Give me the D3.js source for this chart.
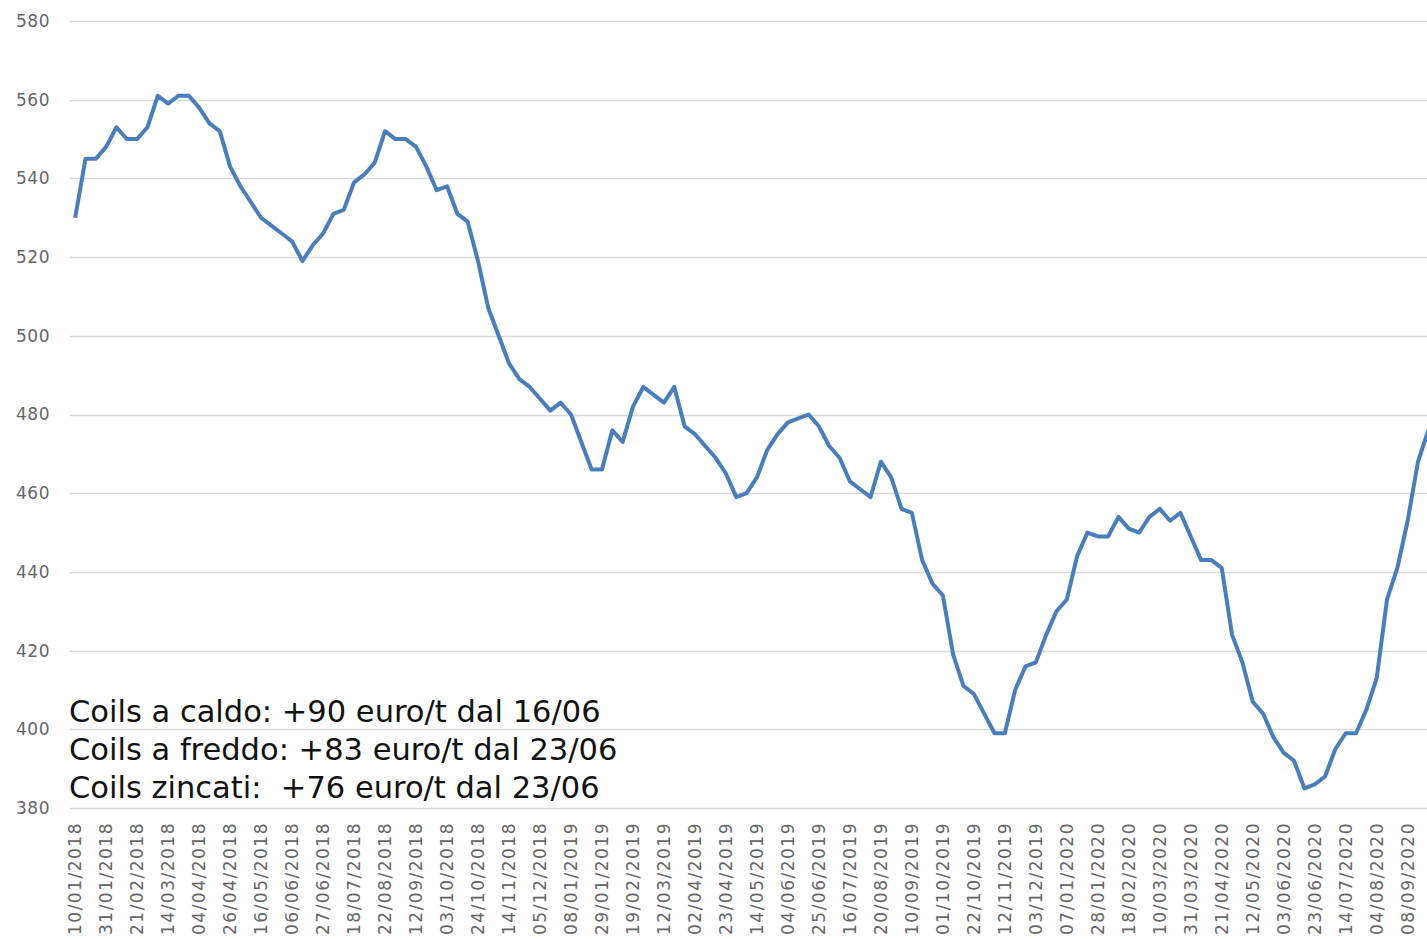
<!DOCTYPE html>
<html>
<head>
<meta charset="utf-8">
<script src="https://cdn.jsdelivr.net/npm/d3@7"></script>
<style>
  html, body { margin: 0; padding: 0; background: #fff; }
  svg { display: block; }
</style>
</head>
<body>
<div id="vis-container"></div>
<script>
// tick labels, one every 3 weekly categories
var tickLabels = [
  '10/01/2018','31/01/2018','21/02/2018','14/03/2018','04/04/2018','26/04/2018',
  '16/05/2018','06/06/2018','27/06/2018','18/07/2018','22/08/2018','12/09/2018',
  '03/10/2018','24/10/2018','14/11/2018','05/12/2018','08/01/2019','29/01/2019',
  '19/02/2019','12/03/2019','02/04/2019','23/04/2019','14/05/2019','04/06/2019',
  '25/06/2019','16/07/2019','20/08/2019','10/09/2019','01/10/2019','22/10/2019',
  '12/11/2019','03/12/2019','07/01/2020','28/01/2020','18/02/2020','10/03/2020',
  '31/03/2020','21/04/2020','12/05/2020','03/06/2020','23/06/2020','14/07/2020',
  '04/08/2020','08/09/2020'
]

// price, euro/t
var prices = [
  530,545,545,548,553,550,550,553,561,559,561,561,558,554,552,543,538,534,530,528,
  526,524,519,523,526,531,532,539,541,544,552,550,550,548,543,537,538,531,529,519,
  507,500,493,489,487,484,481,483,480,473,466,466,476,473,482,487,485,483,487,477,
  475,472,469,465,459,460,464,471,475,478,479,480,477,472,469,463,461,459,468,464,
  456,455,443,437,434,419,411,409,404,399,399,410,416,417,424,430,433,444,450,449,
  449,454,451,450,454,456,453,455,449,443,443,441,424,417,407,404,398,394,392,385,
  386,388,395,399,399,405,413,433,441,453,468,476
]

var yTicks = [380,400,420,440,460,480,500,520,540,560,580]

var notes = [
  'Coils a caldo: +90 euro/t dal 16/06',
  'Coils a freddo: +83 euro/t dal 23/06',
  'Coils zincati:  +76 euro/t dal 23/06'
]

var W = 1427, H = 939
var fontFam = "'DejaVu Sans', sans-serif"

var svg = d3.select('#vis-container').append('svg')
    .attr('width', W)
    .attr('height', H)

var xScale = d3.scalePoint()
    .domain(d3.range(prices.length))
    .range([70, 1433.5])
    .padding(0.5)

var yScale = d3.scaleLinear()
    .domain([380, 580])
    .range([808, 21])

// gridlines
svg.append('g')
  .selectAll('line')
    .data(yTicks)
    .enter()
  .append('line')
    .attr('x1', 70)
    .attr('x2', W)
    .attr('y1', function (d) { return Math.round(yScale(d)) + 0.5 })
    .attr('y2', function (d) { return Math.round(yScale(d)) + 0.5 })
    .attr('stroke', '#d9d9d9')
    .attr('stroke-width', 1.5)

// y labels
svg.append('g')
  .selectAll('text')
    .data(yTicks)
    .enter()
  .append('text')
    .attr('x', 50)
    .attr('y', function (d) { return yScale(d) })
    .attr('dy', '0.35em')
    .attr('text-anchor', 'end')
    .style('font-family', fontFam)
    .style('font-size', '17px')
    .style('letter-spacing', '0.5px')
    .attr('fill', '#666')
    .text(function (d) { return d })

// x labels, rotated
svg.append('g')
  .selectAll('text')
    .data(tickLabels)
    .enter()
  .append('text')
    .attr('transform', function (d, i) {
      return 'translate(' + xScale(i * 3) + ',822) rotate(-90)'
    })
    .attr('dy', '0.35em')
    .attr('text-anchor', 'end')
    .style('font-family', fontFam)
    .style('font-size', '17px')
    .style('letter-spacing', '1.5px')
    .attr('fill', '#666')
    .text(function (d) { return d })

// the line
var line = d3.line()
    .x(function (d, i) { return xScale(i) })
    .y(function (d) { return yScale(d) })

svg.append('path')
    .datum(prices)
    .attr('d', line)
    .attr('fill', 'none')
    .attr('stroke', '#4a7ebb')
    .attr('stroke-width', 4)
    .attr('stroke-linejoin', 'round')

// notes
svg.append('g')
  .selectAll('text')
    .data(notes)
    .enter()
  .append('text')
    .attr('x', 69)
    .attr('y', function (d, i) { return 722 + i * 38 })
    .style('font-family', fontFam)
    .style('font-size', '30.5px')
    .style('white-space', 'pre')
    .attr('fill', '#111')
    .text(function (d) { return d })
</script>
</body>
</html>
